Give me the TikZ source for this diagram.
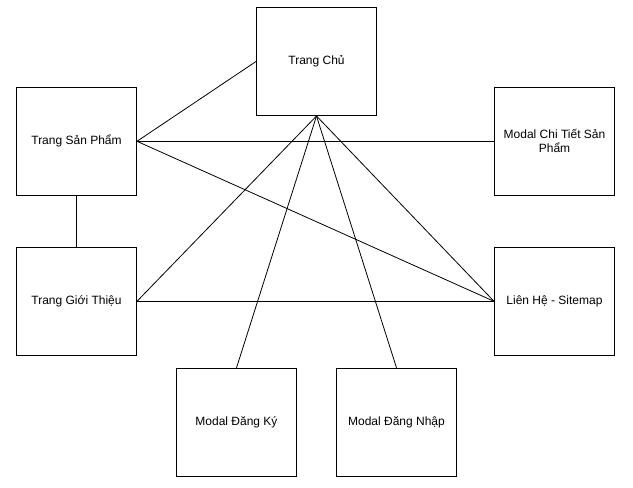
\documentclass[tikz,border=0pt]{standalone}
\usepackage{fontspec}
\setmainfont{Liberation Sans}
\begin{document}
\begin{tikzpicture}[x=1pt,y=-1pt,
  box/.style={draw=black,line width=1pt,minimum width=120pt,minimum height=108pt,inner sep=0pt,align=center,font=\fontsize{12pt}{14pt}\selectfont},
  link/.style={draw=black,line width=0.8pt}]
\useasboundingbox (0,0) rectangle (633,488);
\node[box] (chu) at (316.5,61.5) {Trang Chủ};
\node[box] (sp) at (76.5,141.3) {Trang Sản Phẩm};
\node[box] (ct) at (554.5,141.3) {Modal Chi Tiết Sản\\Phẩm};
\node[box] (gt) at (76.5,301.3) {Trang Giới Thiệu};
\node[box] (lh) at (554.5,301.3) {Liên Hệ - Sitemap};
\node[box] (dk) at (236.5,422.3) {Modal Đăng Ký};
\node[box] (dn) at (396.5,422.3) {Modal Đăng Nhập};
\draw[link] (chu.west) -- (sp.east);
\draw[link] (sp.east) -- (ct.west);
\draw[link] (sp.east) -- (lh.west);
\draw[link] (sp.south) -- (gt.north);
\draw[link] (gt.east) -- (lh.west);
\draw[link] (chu.south) -- (gt.east);
\draw[link] (chu.south) -- (dk.north);
\draw[link] (chu.south) -- (dn.north);
\draw[link] (chu.south) -- (lh.west);
\end{tikzpicture}
\end{document}
